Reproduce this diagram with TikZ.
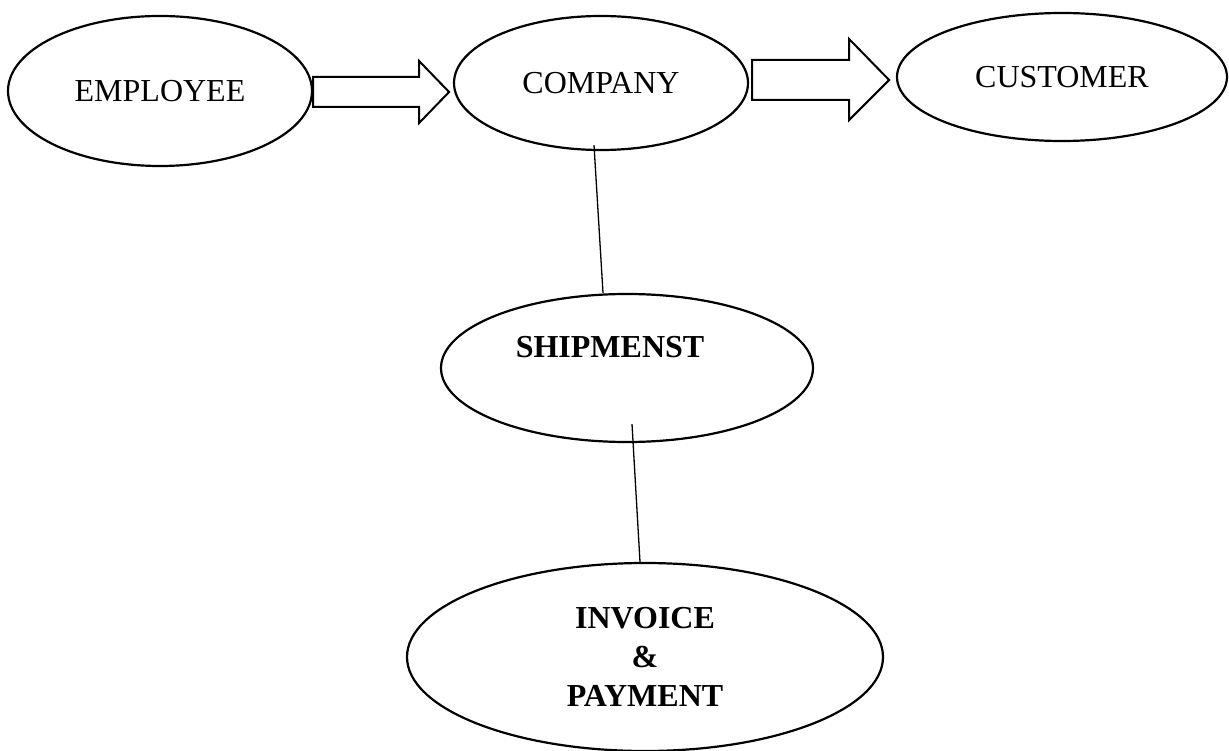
\documentclass[tikz,border=0pt]{standalone}
\usepackage{fontspec}
\setmainfont{Liberation Serif}
\usepackage{tikz}
\usetikzlibrary{shapes.geometric}
\usetikzlibrary{positioning}
\tikzset{
    party/.style={
           ellipse,
           draw=black, line width=2.2pt,
           inner sep=0pt,
           font=\fontsize{32}{39}\selectfont,
           text centered,
           },
    blockarrow/.style={
           draw=black, line width=2pt,
           line join=miter,
           },
    link/.style={
           draw=black, line width=1.3pt,
           },
}

\begin{document}
\begin{tikzpicture}[x=1pt,y=-1pt]
      \useasboundingbox (0,0) rectangle (1229,751);

      % EMPLOYEE
      \node[party,
          minimum width=304pt,
          minimum height=150pt] (EMP) at (160,91)
      {EMPLOYEE};

      % COMPANY
      \node[party,
          minimum width=294pt,
          minimum height=134pt,
          right of=EMP,
          node distance=441pt,
          yshift=8pt] (COMP)
      {COMPANY};

      % CUSTOMER
      \node[party,
          minimum width=330pt,
          minimum height=128pt,
          right of=COMP,
          node distance=461pt,
          yshift=6pt] (CUST)
      {CUSTOMER};

      % SHIPMENST (text sits up and left of the centre)
      \node[party,
          minimum width=372pt,
          minimum height=148pt,
          below of=COMP,
          node distance=285pt,
          xshift=26pt,
          label={[xshift=-17pt,yshift=21pt,font=\fontsize{32}{39}\selectfont\bfseries]center:SHIPMENST}] (SHIP)
      {};

      % INVOICE & PAYMENT
      \node[party,
          minimum width=476pt,
          minimum height=188pt,
          below of=SHIP,
          node distance=289pt,
          xshift=18pt,
          align=center,
          font=\fontsize{32}{39}\selectfont\bfseries] (INV)
      {INVOICE\\\&\\PAYMENT};

      % block arrows between the top ellipses
      \draw[blockarrow] ([yshift=14pt]EMP.east) -- ++(106,0) -- ++(0,-16)
          -- ++(30,31) -- ++(-30,31) -- ++(0,-16) -- ++(-106,0) -- cycle;
      \draw[blockarrow] ([xshift=3pt,yshift=23pt]COMP.east) -- ++(97,0) -- ++(0,-21)
          -- ++(40,41) -- ++(-40,40) -- ++(0,-20) -- ++(-97,0) -- cycle;

      % plain lines down the middle
      \draw[link] ([shift={(-7,-6)}]COMP.south) -- ([xshift=-24pt]SHIP.north);
      \draw[link] ([shift={(5,-19)}]SHIP.south) -- ([xshift=-5pt]INV.north);

\end{tikzpicture}
\end{document}
